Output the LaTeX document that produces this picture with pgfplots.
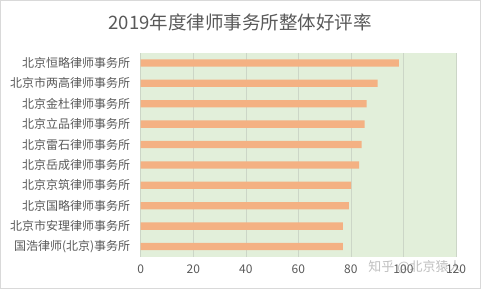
\documentclass[border=0pt]{standalone}
\usepackage{fontspec}
\setmainfont{Noto Sans CJK SC}
\usepackage{pgfplots}
\pgfplotsset{compat=1.18}
\definecolor{barc}{HTML}{F4B183}
\definecolor{bgc}{HTML}{E2EFDA}
\definecolor{gridc}{HTML}{CCD6C7}
\definecolor{txt}{HTML}{595959}
\definecolor{brd}{HTML}{D9D9D9}
\begin{document}
\begin{tikzpicture}[x=1pt,y=1pt]
\path[use as bounding box] (0,0) rectangle (481,289);
\draw[brd] (0.5,0.5) rectangle (480.5,288.5);
\node[txt,font=\fontsize{18.5}{20}\selectfont] at (240,267) {2019年度律师事务所整体好评率};
\begin{axis}[
  at={(140.7pt,32.3pt)}, anchor=south west,
  scale only axis, width=315.3pt, height=204pt,
  xmin=0, xmax=120, ymin=-0.5, ymax=9.5,
  xbar, bar width=7.3pt,
  axis background/.style={fill=bgc},
  axis line style={draw=none},
  xtick={0,20,...,120},
  xmajorgrids, major grid style={gridc, line width=0.6pt},
  ytick={0,...,9},
  yticklabels={国浩律师(北京)事务所,北京市安理律师事务所,北京国略律师事务所,北京京筑律师事务所,北京岳成律师事务所,北京雷石律师事务所,北京立品律师事务所,北京金杜律师事务所,北京市两高律师事务所,北京恒略律师事务所},
  major tick length=0pt,
  tick label style={txt, font=\fontsize{12}{13}\selectfont},
  /pgf/number format/assume math mode=true,
  yticklabel style={xshift=-7pt},
  xticklabel style={yshift=-5pt},
  clip=false,
]
\addplot[fill=barc, draw=none] coordinates {
(76.9,0) (76.9,1) (79.2,2) (80.1,3) (83.1,4) (84.1,5) (85.2,6) (86.0,7) (90.2,8) (98.3,9)
};
\end{axis}
\node[gray, opacity=0.5, font=\fontsize{13}{14}\selectfont] at (415,22) {知乎 @北京猿人};
\end{tikzpicture}
\end{document}
